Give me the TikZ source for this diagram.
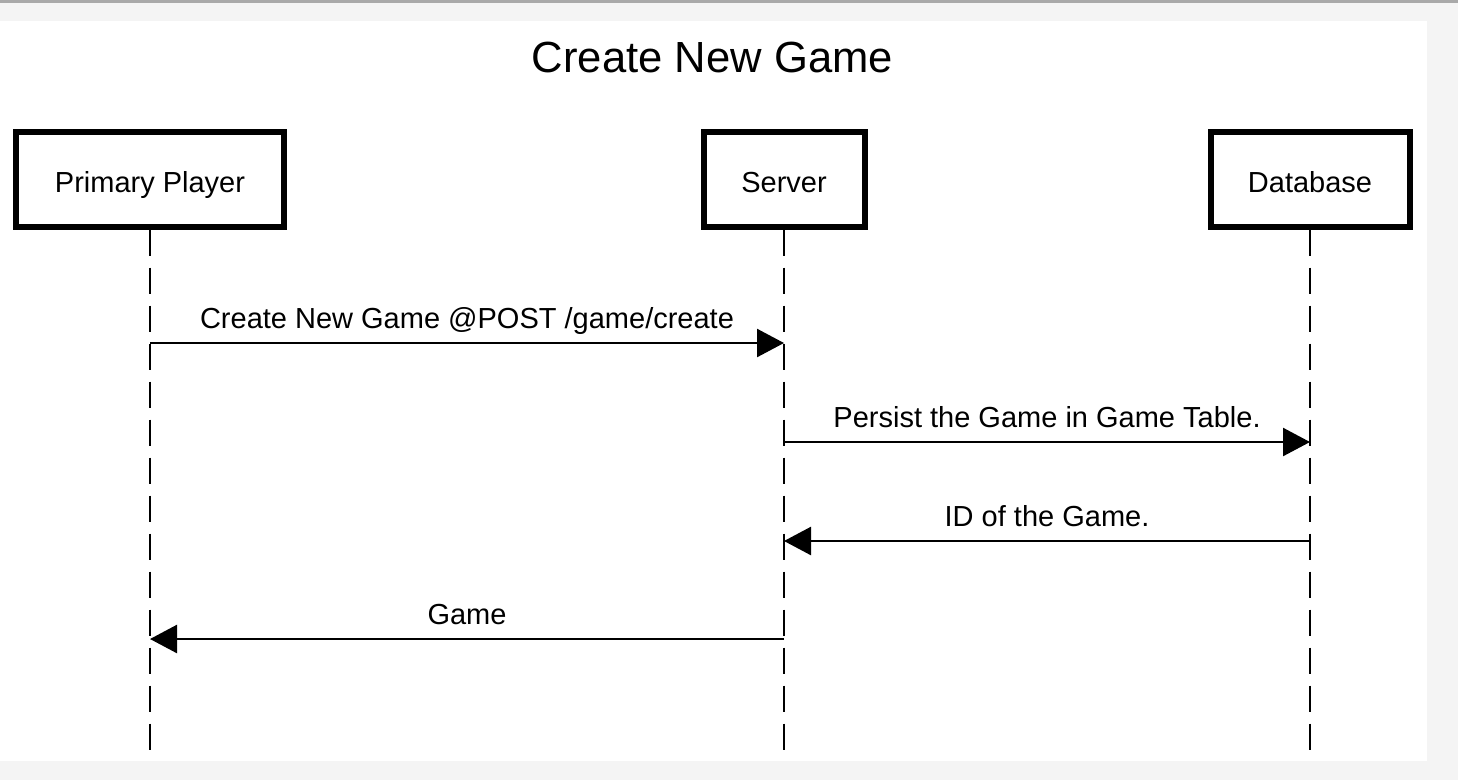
\documentclass[tikz,border=0pt]{standalone}
\usepackage{fontspec}
\setmainfont{Liberation Sans}
\usetikzlibrary{arrows.meta}
\definecolor{pagegray}{HTML}{F4F4F4}
\definecolor{rulegray}{HTML}{A9A9A9}
\tikzset{
  actor/.style={draw, line width=6pt, fill=white, minimum width=#1, minimum height=95pt,
    inner sep=0pt, text height=28pt, text depth=2pt, font=\fontsize{29}{34}\selectfont},
  lifeline/.style={line width=2.5pt, dash pattern=on 26pt off 12pt},
  msg/.style={line width=2.5pt, -{Triangle[length=27pt,width=28pt]}},
  msglabel/.style={anchor=base, yshift=15pt, font=\fontsize{29}{34}\selectfont}
}

\begin{document}
\begin{tikzpicture}[x=1pt, y=-1pt]
% page background
\fill[pagegray] (0,0) rectangle (1458,780);
\fill[white] (0,21) rectangle (1427,761);
\fill[rulegray] (0,0) rectangle (1458,3);

\node[anchor=base, font=\fontsize{43.6}{50}\selectfont] (title) at (712.5,72) {Create New Game};

% participants and lifelines
\foreach \name/\x/\w/\txt in {player/150/268/Primary Player, server/784/161/Server, db/1310/199/Database}
{
    \node[actor=\w pt] (\name) at (\x,179) {\txt};
    \coordinate (\name-end) at (\x,761);
    \draw[lifeline] (\name.south) -- (\name-end);
}

% messages
\foreach \from/\to/\y/\txt in {player/server/343/{Create New Game @POST /game/create},
    server/db/442/{Persist the Game in Game Table.}, db/server/541/{ID of the Game.},
    server/player/639/Game}
{
    \coordinate (\from-\y) at (\from.south |- 0,\y);
    \coordinate (\to-\y) at (\to.south |- 0,\y);
    \draw[msg] (\from-\y) -- node[msglabel] (label-\y) {\txt} (\to-\y);
}
\end{tikzpicture}
\end{document}
